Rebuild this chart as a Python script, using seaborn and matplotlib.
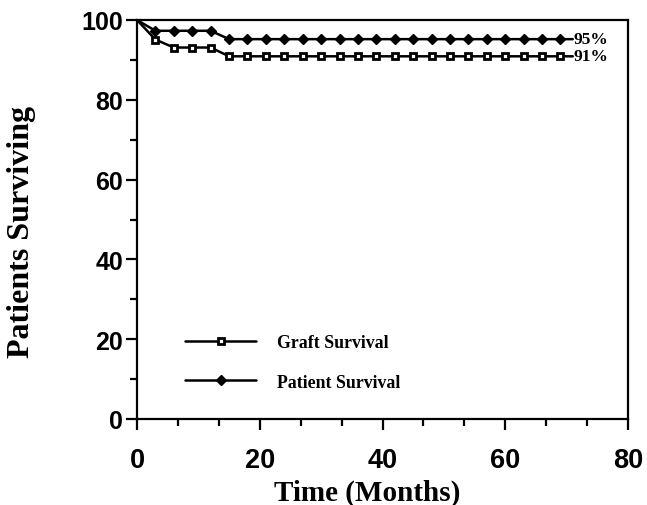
import matplotlib
matplotlib.use("Agg")
import matplotlib.pyplot as plt
from matplotlib.lines import Line2D
from matplotlib.ticker import MultipleLocator
import seaborn as sns
import pandas as pd

# ---- data ----
months = [0, 3, 6, 9, 12, 15, 18, 21, 24, 27, 30, 33, 36, 39, 42, 45, 48,
          51, 54, 57, 60, 63, 66, 69, 71]
patient_survival = [100, 97.3, 97.3, 97.3, 97.3, 95.2, 95.2, 95.2, 95.2, 95.2,
                    95.2, 95.2, 95.2, 95.2, 95.2, 95.2, 95.2, 95.2, 95.2, 95.2,
                    95.2, 95.2, 95.2, 95.2, 95.2]
graft_survival = [100, 95.1, 93.1, 93.1, 93.1, 90.9, 90.9, 90.9, 90.9, 90.9,
                  90.9, 90.9, 90.9, 90.9, 90.9, 90.9, 90.9, 90.9, 90.9, 90.9,
                  90.9, 90.9, 90.9, 90.9, 90.9]
series_names = ["Graft Survival", "Patient Survival"]
end_labels = ["91%", "95%"]
x_ticks = [0, 20, 40, 60, 80]
y_ticks = [0, 20, 40, 60, 80, 100]

sns.set_style("ticks")
plt.rcParams["font.family"] = ["Liberation Serif", "DejaVu Serif"]
plt.rcParams["text.color"] = "black"
plt.rcParams["axes.labelcolor"] = "black"
plt.rcParams["xtick.color"] = "black"
plt.rcParams["ytick.color"] = "black"

fig = plt.figure(figsize=(6.47, 5.06), dpi=100)
ax = fig.add_axes([137 / 647, 1 - 420 / 506, 491 / 647, 399 / 506])

df_g = pd.DataFrame({"Months": months, "Survival": graft_survival})
df_p = pd.DataFrame({"Months": months, "Survival": patient_survival})

sq_kw = dict(marker="s", markersize=4.2, markerfacecolor="white",
             markeredgecolor="black", markeredgewidth=2.0)
di_kw = dict(marker="D", markersize=5.0, markerfacecolor="black",
             markeredgecolor="black", markeredgewidth=1.0)

mark = slice(1, len(months) - 1)
sns.lineplot(data=df_g, x="Months", y="Survival", ax=ax, sort=False,
             errorbar=None, color="black", linewidth=1.8, markevery=mark,
             **sq_kw)
sns.lineplot(data=df_p, x="Months", y="Survival", ax=ax, sort=False,
             errorbar=None, color="black", linewidth=1.8, markevery=mark,
             **di_kw)

# end labels
for vals, lab in zip([graft_survival, patient_survival], end_labels):
    ax.text(months[-1] + 0.1, vals[-1], lab, ha="left", va="center",
            fontsize=12.5, fontweight="bold", family="Liberation Serif",
            color="black")

ax.set_xlim(0, 80)
ax.set_ylim(0, 100)
ax.set_xticks(x_ticks)
ax.set_yticks(y_ticks)
ax.xaxis.set_minor_locator(MultipleLocator(20 / 3))
ax.yaxis.set_minor_locator(MultipleLocator(10))
for s in ax.spines.values():
    s.set_linewidth(1.6)
    s.set_color("black")
    s.set_visible(True)
ax.tick_params(axis="both", which="major", length=8, width=1.6, color="black",
               direction="out", labelcolor="black")
ax.tick_params(axis="both", which="minor", length=5, width=1.6, color="black",
               direction="out")
ax.tick_params(axis="x", which="major", pad=12)
ax.tick_params(axis="y", which="major", pad=2)
for lab in ax.get_xticklabels():
    lab.set_fontfamily("Liberation Sans")
    lab.set_fontweight("bold")
    lab.set_fontsize(19.5)
for lab in ax.get_yticklabels():
    lab.set_fontfamily("Liberation Sans")
    lab.set_fontweight("bold")
    lab.set_fontsize(18)

ax.set_xlabel("Time (Months)", fontsize=21, fontweight="bold",
              family="Liberation Serif", color="black")
ax.set_ylabel("Patients Surviving", fontsize=23, fontweight="bold",
              family="Liberation Serif", color="black")
ax.xaxis.set_label_coords(230 / 491, -0.15)
ax.yaxis.set_label_coords(-0.205, 0.472)

handles = [
    Line2D([], [], color="black", linewidth=1.8, **sq_kw),
    Line2D([], [], color="black", linewidth=1.8, **di_kw),
]
ax.legend(handles, series_names, loc="center left",
          bbox_to_anchor=((185 - 137) / 491, (420 - 363.5) / 399),
          frameon=False, borderpad=0, borderaxespad=0, handlelength=4,
          handletextpad=1.2, labelspacing=1.25, numpoints=1,
          labelcolor="black",
          prop={"family": "Liberation Serif", "weight": "bold", "size": 12.8})

fig.savefig("out.png", dpi=100)
